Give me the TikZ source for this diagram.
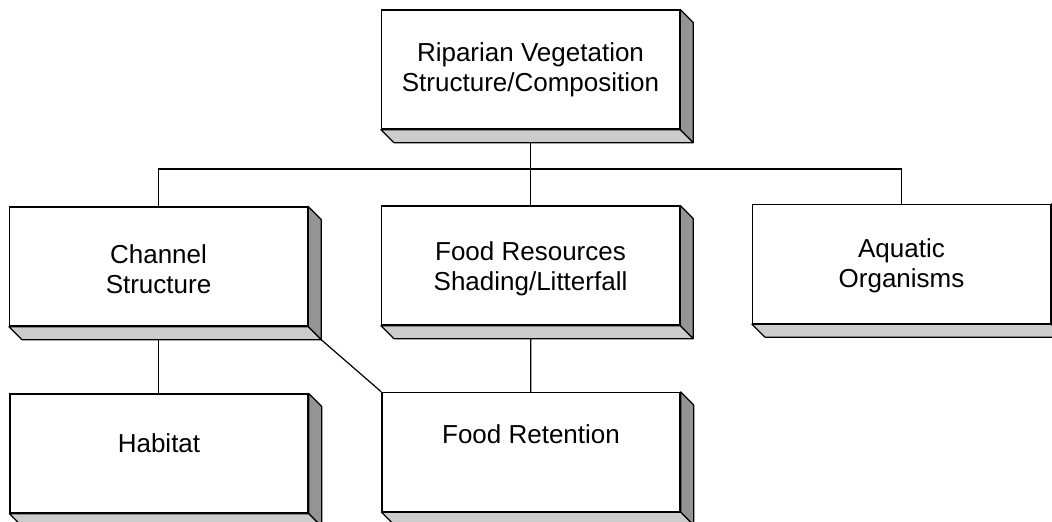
\documentclass[tikz,border=0pt]{standalone}
\usepackage{fontspec}
\setmainfont{Liberation Sans}
\usetikzlibrary{backgrounds,calc}
\tikzset{
  box/.style={draw=black, line width=1pt, fill=white, rectangle,
    minimum width=223.5pt, minimum height=89.25pt, inner sep=0pt,
    align=center, font=\fontsize{19.5}{22.5}\selectfont},
  face/.style={draw=black, line width=0.9pt, line join=round},
  bottomface/.style={face, fill=black!20},
  sideface/.style={face, fill=black!42},
  link/.style={draw=black, line width=0.9pt},
  lbl/.style={align=center, font=\fontsize{19.5}{22.5}\selectfont, inner sep=0pt}
}
\begin{document}
\begin{tikzpicture}[x=0.75pt, y=-0.75pt]
\clip (0,0) rectangle (1052,521);
\useasboundingbox (0,0) rectangle (1052,521);

\node[box] (top) at (530.5,69.5) {Riparian Vegetation\\Structure/Composition};
\node[box] (channel) at (158.5,266.5) {};
\node[box] (food) at (530.5,265.5) {};
\node[box] (aquatic) at (901.5,264) {};
\node[box] (habitat) at (159,453.5) {};
\node[box] (retention) at (531,452) {};
\node[lbl] (channellbl) at (158.5,269) {Channel\\Structure};
\node[lbl] (foodlbl) at (530.5,268.5) {Food Resources\\Shading/Litterfall};
\node[lbl] (aquaticlbl) at (901.5,265.5) {Aquatic\\Organisms};
\node[lbl] (habitatlbl) at (159,443) {Habitat};
\node[lbl] (retentionlbl) at (531,434) {Food Retention};

\foreach \n in {top,channel,food,aquatic,habitat,retention}{
  \draw[sideface] (\n.north east) -- ++(13,13) -- ($(\n.south east)+(13,13)$) -- (\n.south east) -- cycle;
  \draw[bottomface] (\n.south west) -- (\n.south east) -- ++(13,13) -- ($(\n.south west)+(13,13)$) -- cycle;
}

\coordinate (bus) at (530.5,169);
\coordinate (chcorner) at ($(channel.south east)+(13,13)$);
\begin{scope}[on background layer]
  \draw[link] (top.center) -- (food.center);
  \draw[link] (channel.center) |- (bus) -| (aquatic.center);
  \draw[link] (channel.center) -- (channel.center |- habitat.center);
  \draw[link] (food.center) -- (retention.center);
\end{scope}
\draw[link] (chcorner) -- (retention.north west);
\end{tikzpicture}
\end{document}
